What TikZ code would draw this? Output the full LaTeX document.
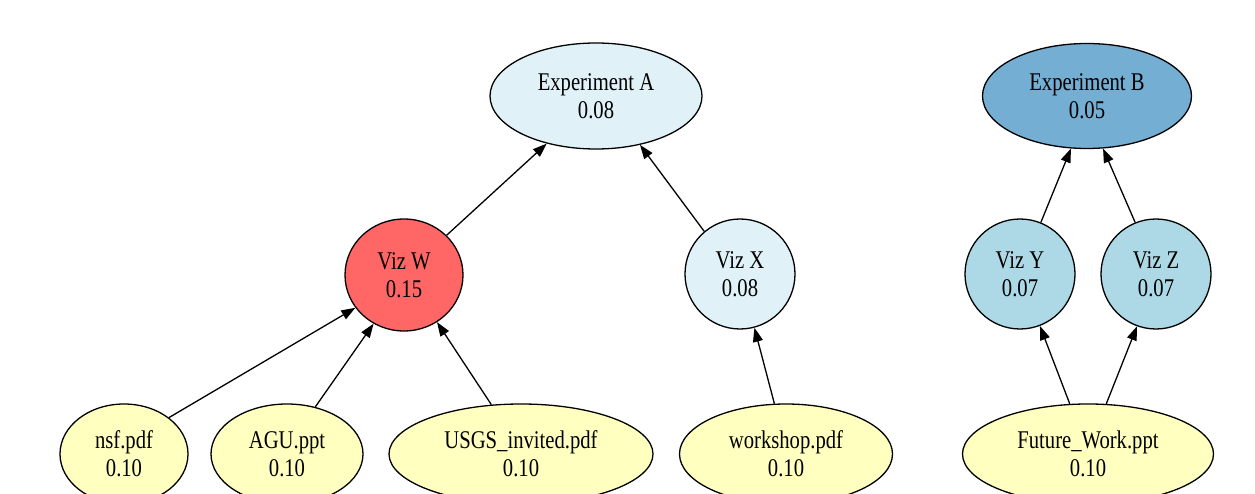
\documentclass[tikz,border=0pt]{standalone}
\usepackage{fontspec}
\setmainfont{Liberation Serif}[FakeStretch=0.81]
\usetikzlibrary{shapes.geometric, arrows.meta}

\definecolor{paleblue}{HTML}{E0F2F8}
\definecolor{midblue}{HTML}{74AED3}
\definecolor{lightblue}{HTML}{ADD8E6}
\definecolor{hotred}{HTML}{FF6666}
\definecolor{paleyellow}{HTML}{FFFFC0}

\begin{document}
\begin{tikzpicture}[x=1pt, y=-1pt,
                    line width=1.3pt,
                    blob/.style={draw, ellipse, inner sep=0pt, align=center,
                                 font=\fontsize{25.5}{28}\selectfont},
                    doc/.style={blob, fill=paleyellow, minimum height=100pt},
                    link/.style={-{Triangle[length=14pt, width=10pt]}}
                    ]
    \useasboundingbox (0,0) rectangle (1255,494);

    \node[blob, fill=paleblue, minimum width=212pt, minimum height=106pt] (expA) at (596,96) {Experiment A\\0.08};
    \node[blob, fill=midblue, minimum width=209pt, minimum height=105pt] (expB) at (1087,96) {Experiment B\\0.05};

    \node[blob, fill=hotred, minimum width=118pt, minimum height=112pt] (vizW) at (404,275) {Viz W\\0.15};
    \node[blob, fill=paleblue, minimum width=110pt, minimum height=110pt] (vizX) at (740,274) {Viz X\\0.08};
    \node[blob, fill=lightblue, minimum width=110pt, minimum height=110pt] (vizY) at (1020,274) {Viz Y\\0.07};
    \node[blob, fill=lightblue, minimum width=110pt, minimum height=110pt] (vizZ) at (1156,274) {Viz Z\\0.07};

    \node[doc, minimum width=128pt] (nsf) at (124,454) {nsf.pdf\\0.10};
    \node[doc, minimum width=152pt] (agu) at (287,454) {AGU.ppt\\0.10};
    \node[doc, minimum width=264pt] (usgs) at (521,454) {USGS\_invited.pdf\\0.10};
    \node[doc, minimum width=213pt] (workshop) at (786,454) {workshop.pdf\\0.10};
    \node[doc, minimum width=251pt] (future) at (1088,454) {Future\_Work.ppt\\0.10};

    \draw[link] (nsf.39) -- (vizW.214);
    \draw[link] (agu.59) -- (vizW.238);
    \draw[link] (usgs.121) -- (vizW.305);
    \draw[link] (vizW.43) -- (expA.224);
    \draw[link] (vizX.130) -- (expA.312);
    \draw[link] (workshop.103) -- (vizX.285);
    \draw[link] (future.110) -- (vizY.291);
    \draw[link] (future.70) -- (vizZ.250);
    \draw[link] (vizY.68) -- (expB.253);
    \draw[link] (vizZ.112) -- (expB.287);
\end{tikzpicture}
\end{document}
